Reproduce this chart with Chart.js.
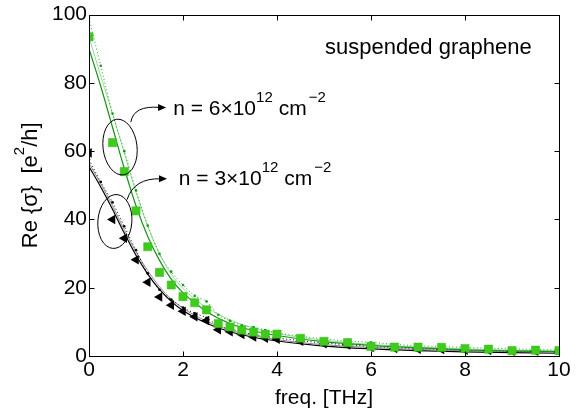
<!DOCTYPE html>
<html>
<head>
<meta charset="utf-8">
<script src="https://cdn.jsdelivr.net/npm/chart.js@4.4.1/dist/chart.umd.min.js"></script>
<style>
  html, body { margin: 0; padding: 0; background: #fff; }
  canvas { display: block; }
</style>
</head>
<body>
<canvas id="chart" width="586" height="411"></canvas>
<script>
// frequency grids [THz]
const markerFreq = [0, 0.5, 0.75, 1, 1.25, 1.5, 1.75, 2, 2.25, 2.5, 2.75, 3, 3.25, 3.5, 3.75, 4,
   4.5, 5, 5.5, 6, 6.5, 7, 7.5, 8, 8.5, 9, 9.5, 10]
const dotFreq = [0, 0.25, 0.5, 0.75, 1, 1.25, 1.5, 1.75, 2, 2.25, 2.5, 2.75, 3, 3.25, 3.5, 3.75, 4,
   4.5, 5, 5.5, 6, 6.5, 7, 7.5, 8, 8.5, 9, 9.5, 10]
const lineFreq = [0, 0.25, 0.5, 0.75, 1, 1.25, 1.5, 1.75, 2, 2.5, 3, 3.5, 4, 5, 6, 7, 8, 9, 10]

// n = 6x10^12 cm^-2 (green)
const greenSquares = [93.5, 62.5, 54, 42.5, 32, 24.5, 20.8, 17.4, 15.6, 13.5, 9.5, 8.5, 7.6, 7.0, 6.4, 6.4,
   5.2, 4.3, 3.9, 2.8, 2.6, 2.6, 2.5, 2.2, 2.0, 1.6, 1.7, 1.6]
const greenDotted = [99, 85, 71, 60, 48.5, 38.2, 29.9, 24.7, 20.8, 17.6, 16, 12.1, 10.3, 9.0, 8.5, 7.6, 6.8,
   5.8, 5.0, 4.4, 4.0, 3.4, 3.0, 2.8, 2.5, 2.3, 2.1, 1.9, 1.8]
const greenSolid = [90, 79, 67, 55, 44, 35, 28, 22.5, 18.5, 13, 9.5, 7.4, 6, 4.2, 3.1, 2.4, 1.8, 1.5, 1.3]
const greenLight = [93.5, 82, 71, 59.5, 48, 38, 30, 24, 19.8, 14.2, 10.6, 8.2, 6.6, 4.6, 3.4, 2.6, 2.1, 1.7, 1.5]

// n = 3x10^12 cm^-2 (black)
const blackTriangles = [59.5, 40, 34.5, 28.2, 21.6, 17.3, 14.9, 13.1, 11.5, 10.4, 7.7, 7.1, 6.3, 5.6, 5.2, 4.9,
   4.3, 3.6, 3.2, 2.5, 2.2, 2.0, 1.9, 1.7, 1.6, 1.4, 1.4, 1.2]
const blackDotted = [57.5, 51, 45, 38, 31, 24.2, 19.4, 16.5, 14.2, 12.5, 11.2, 8.8, 8.0, 7.0, 6.3, 5.8, 5.3,
   4.5, 3.8, 3.3, 2.8, 2.5, 2.2, 2.0, 1.8, 1.6, 1.5, 1.4, 1.3]
const blackSolid = [55.5, 49.5, 43, 36, 29.5, 24, 19.5, 16, 13.3, 9.6, 7.1, 5.5, 4.4, 2.9, 2.1, 1.6, 1.2, 1.0, 0.8]
const grayLine = [56.5, 50.5, 44, 37, 30.5, 25, 20.3, 16.7, 14, 10.2, 7.6, 6.0, 4.8, 3.3, 2.5, 1.9, 1.5, 1.3, 1.1]

const xTicks = [0, 2, 4, 6, 8, 10]
const yTicks = [0, 20, 40, 60, 80, 100]

const FONT = '"Liberation Sans", Arial, Helvetica, sans-serif'

const pts = (xs, ys) => xs.map((x, i) => ({ x: x, y: ys[i] }))

const lineSet = (data, color, extra = {}) => ({
   data,
   borderColor: color,
   borderWidth: 1,
   pointRadius: 0,
   fill: false,
   cubicInterpolationMode: 'monotone',
   ...extra
})

// draws text pieces, some raised as superscripts
const richText = (ctx, x, y, pieces, size, supSize) => {
   let cx = x
   pieces.forEach(([txt, sup, gap = 0]) => {
      cx += gap
      ctx.font = (sup ? supSize : size) + 'px ' + FONT
      ctx.fillText(txt, cx, sup ? y - 13 : y)
      cx += ctx.measureText(txt).width
   })
   return cx - x
}

const richWidth = (ctx, pieces, size, supSize) => {
   let w = 0
   pieces.forEach(([txt, sup, gap = 0]) => {
      ctx.font = (sup ? supSize : size) + 'px ' + FONT
      w += gap + ctx.measureText(txt).width
   })
   return w
}

const arrow = (ctx, p0, c, p1) => {
   ctx.beginPath()
   ctx.moveTo(p0[0], p0[1])
   ctx.quadraticCurveTo(c[0], c[1], p1[0] - 6, p1[1])
   ctx.stroke()
   ctx.beginPath()
   ctx.moveTo(p1[0], p1[1])
   ctx.lineTo(p1[0] - 8, p1[1] - 3.5)
   ctx.lineTo(p1[0] - 8, p1[1] + 3.5)
   ctx.closePath()
   ctx.fill()
}

const framePlugin = {
   id: 'frame',
   afterDraw(chart) {
      const { ctx, chartArea: a } = chart
      const sx = chart.scales.x, sy = chart.scales.y
      const P = (xv, yv) => [sx.getPixelForValue(xv), sy.getPixelForValue(yv)]
      ctx.save()
      ctx.strokeStyle = '#000'
      ctx.fillStyle = '#000'
      ctx.lineWidth = 1

      // box + inward ticks
      const L = Math.round(a.left) + 0.5, R = Math.round(a.right) + 0.5
      const T = Math.round(a.top) + 0.5, B = Math.round(a.bottom) + 0.5
      ctx.strokeRect(L, T, R - L, B - T)
      ctx.beginPath()
      xTicks.forEach(v => {
         const px = Math.round(sx.getPixelForValue(v)) + 0.5
         ctx.moveTo(px, B); ctx.lineTo(px, B - 5)
         ctx.moveTo(px, T); ctx.lineTo(px, T + 5)
      })
      yTicks.forEach(v => {
         const py = Math.round(sy.getPixelForValue(v)) + 0.5
         ctx.moveTo(L, py); ctx.lineTo(L + 5, py)
         ctx.moveTo(R, py); ctx.lineTo(R - 5, py)
      })
      ctx.stroke()

      // ellipses
      let c = P(0.66, 61.2)
      ctx.beginPath()
      ctx.ellipse(c[0], c[1], 17, 28, -0.12, 0, Math.PI * 2)
      ctx.stroke()
      c = P(0.55, 39.4)
      ctx.beginPath()
      ctx.ellipse(c[0], c[1], 17, 27, 0.08, 0, Math.PI * 2)
      ctx.stroke()

      // arrows
      arrow(ctx, P(0.89, 68.5), P(0.95, 73.5), P(1.64, 72.8))
      arrow(ctx, P(0.81, 45.8), P(0.96, 52.2), P(1.66, 51.9))

      // labels
      ctx.textBaseline = 'alphabetic'
      ctx.textAlign = 'left'
      let p = P(1.79, 70.7)
      richText(ctx, p[0], p[1], [['n = 6×10', 0], ['12', 1], ['cm', 0, 6], ['−2', 1, 2]], 21, 15)
      p = P(1.91, 50.1)
      richText(ctx, p[0], p[1], [['n = 3×10', 0], ['12', 1], ['cm', 0, 6], ['−2', 1, 2]], 21, 15)
      p = P(5.02, 88.4)
      ctx.font = '22px ' + FONT
      ctx.fillText('suspended graphene', p[0], p[1])

      // axis titles
      ctx.font = '21px ' + FONT
      ctx.textAlign = 'center'
      ctx.fillText('freq. [THz]', (a.left + a.right) / 2, 404)

      const yPieces = [['Re {σ}  [e', 0], ['2', 1], ['/h]', 0]]
      ctx.translate(37, (a.top + a.bottom) / 2)
      ctx.rotate(-Math.PI / 2)
      ctx.textAlign = 'left'
      const w = richWidth(ctx, yPieces, 22, 15)
      richText(ctx, -w / 2, 0, yPieces, 22, 15)
      ctx.restore()
   }
}

new Chart(document.getElementById('chart'), {
   type: 'line',
   data: {
      datasets: [
         {
            data: pts(markerFreq, greenSquares),
            showLine: false,
            pointStyle: 'rect',
            pointRadius: 5.8,
            pointBackgroundColor: '#3fcb1c',
            pointBorderColor: '#36b814',
            pointBorderWidth: 0.5
         },
         {
            data: pts(markerFreq, blackTriangles),
            showLine: false,
            pointStyle: 'triangle',
            pointRotation: -90,
            pointRadius: 5.5,
            pointBackgroundColor: '#000',
            pointBorderColor: '#000',
            pointBorderWidth: 0
         },
         lineSet(pts(dotFreq, greenDotted), '#1fa51f', {
            borderDash: [1, 2.5],
            pointRadius: 1.3,
            pointBackgroundColor: '#1a9a1a',
            pointBorderWidth: 0
         }),
         lineSet(pts(lineFreq, greenSolid), '#149414', { borderWidth: 1.2 }),
         lineSet(pts(lineFreq, greenLight), '#9ad89a'),
         lineSet(pts(dotFreq, blackDotted), '#000', {
            borderDash: [1, 2.5],
            pointRadius: 1.3,
            pointBackgroundColor: '#000',
            pointBorderWidth: 0
         }),
         lineSet(pts(lineFreq, grayLine), '#8a8a8a'),
         lineSet(pts(lineFreq, blackSolid), '#000', { borderWidth: 1.2 })
      ]
   },
   options: {
      responsive: false,
      animation: false,
      devicePixelRatio: 1,
      layout: { padding: { top: 11, right: 27, left: 0, bottom: 0 } },
      plugins: {
         legend: { display: false },
         tooltip: { enabled: false }
      },
      scales: {
         x: {
            type: 'linear',
            min: 0,
            max: 10,
            afterFit: s => { s.height = 55 },
            afterBuildTicks: s => { s.ticks = xTicks.map(v => ({ value: v })) },
            grid: { display: false, drawTicks: false },
            border: { display: false },
            ticks: {
               color: '#000',
               padding: 2,
               maxRotation: 0,
               font: { family: FONT, size: 21 }
            }
         },
         y: {
            type: 'linear',
            min: 0,
            max: 100,
            afterFit: s => { s.width = 89 },
            afterBuildTicks: s => { s.ticks = yTicks.map(v => ({ value: v })) },
            grid: { display: false, drawTicks: false },
            border: { display: false },
            ticks: {
               color: '#000',
               padding: 2,
               font: { family: FONT, size: 21 }
            }
         }
      }
   },
   plugins: [framePlugin]
})
</script>
</body>
</html>
